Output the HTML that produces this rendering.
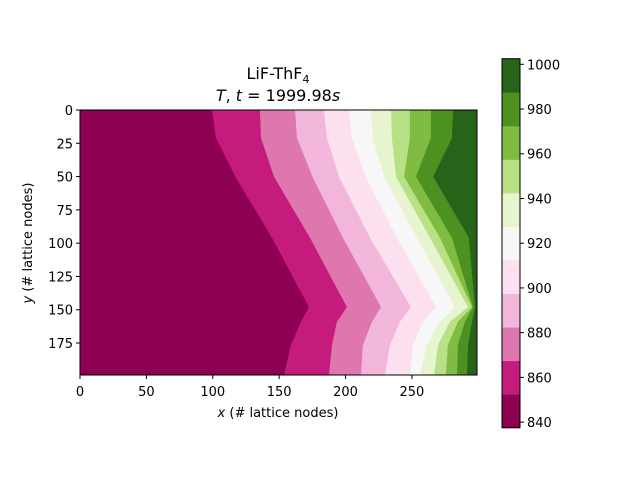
<!DOCTYPE html>
<html><head><meta charset="utf-8"><style>
html,body{margin:0;padding:0;background:#fff;}
svg text{font-family:"DejaVu Sans","Liberation Sans",sans-serif;fill:#000;}
</style></head><body>
<svg id="chart" width="640" height="480" viewBox="0 0 640 480" xmlns="http://www.w3.org/2000/svg">
<g id="plot"></g>
<g id="axes"></g>
<g id="cbar"></g>
<text x="278" y="79" font-size="16" text-anchor="middle">LiF-ThF<tspan font-size="11" dy="4">4</tspan></text>
<text x="278" y="101" font-size="16" text-anchor="middle"><tspan font-style="italic">T</tspan>, <tspan font-style="italic">t</tspan> = 1999.98<tspan font-style="italic">s</tspan></text>
<text x="278" y="417" font-size="13" text-anchor="middle"><tspan font-style="italic">x</tspan> (# lattice nodes)</text>
<text transform="translate(32,243) rotate(-90)" font-size="13" text-anchor="middle"><tspan font-style="italic">y</tspan> (# lattice nodes)</text>
</svg>
<script>
// data
const levels=[837.5,852.5,867.5,882.5,897.5,912.5,927.5,942.5,957.5,972.5,987.5,1002.5];
const colors=["#8e0152","#c51b7d","#de77ae","#f1b6da","#fde0ef","#f7f7f7","#e6f5d0","#b8e186","#7fbc41","#4d9221","#276419"];
const boundaryY=[0,21,50,96,148,159,176.5,199];
const b1=[99.4,102.4,117,144.6,172.4,166.4,158.9,153.6];
const b2=[135.5,136.3,146,173.2,201,193.5,189.8,187.5];
const b3=[161.9,163.4,175,198,226.7,219.9,213.1,211.6];
const b4=[183.7,186,195,218.4,249.2,241,233.4,229.7];
const b5=[202.6,204.8,215,238.7,268.1,258.3,250.8,248.5];
const b6=[219.1,220.6,229,253.8,282.4,271.1,261.3,256];
const b7=[234.2,234.9,238,263.6,292.2,278.6,269.6,266.6];
const b8=[248.5,248.5,244,271.1,295.2,284.6,277.1,275.6];
const b9=[264.3,264.3,253,280.1,295.9,289.9,284.6,283.9];
const b10=[280.9,280.1,266,292.9,297.4,295.2,292.2,291.4];
const boundaries=[b1,b2,b3,b4,b5,b6,b7,b8,b9,b10];
const xTicks=[0,50,100,150,200,250];
const yTicks=[0,25,50,75,100,125,150,175];
const cbTicks=[840,860,880,900,920,940,960,980,1000];

const NS="http://www.w3.org/2000/svg";
const L=80,R=477,T=110,B=375,XMAX=299,YMAX=199;
const sx=v=>L+v*(R-L)/XMAX;
const sy=v=>T+v*(B-T)/YMAX;
const CT=58.7,CB=427.7,CL=502,CR=520;
const cy=v=>CB-(v-levels[0])*(CB-CT)/(levels[levels.length-1]-levels[0]);
function mk(tag,attrs,parent){const e=document.createElementNS(NS,tag);for(const k in attrs)e.setAttribute(k,attrs[k]);parent.appendChild(e);return e;}
const plot=document.getElementById('plot'),axes=document.getElementById('axes'),cbar=document.getElementById('cbar');

let bg=mk('rect',{x:L,y:T,width:R-L,height:B-T,fill:colors[0]},plot);


boundaries.forEach((bd,k)=>{
  let pts=bd.map((x,i)=>sx(x).toFixed(1)+','+sy(boundaryY[i]).toFixed(1));
  pts.push(sx(XMAX)+','+sy(YMAX));pts.push(sx(XMAX)+','+sy(0));
  const p=mk('polygon',{points:pts.join(' '),fill:colors[k+1]},plot);
  
  
});
const fr=mk('rect',{x:L,y:T,width:R-L,height:B-T,fill:'none',stroke:'#000','stroke-width':1},axes);


xTicks.forEach(v=>{
  const x=sx(v);
  const t=mk('line',{x1:x,x2:x,y1:B,y2:B+4,stroke:'#000'},axes);
  
  
  const l=mk('text',{x:x,y:B+21,'font-size':13,'text-anchor':'middle'},axes);l.textContent=v;
  
  
});
yTicks.forEach(v=>{
  const y=sy(v);
  const t=mk('line',{x1:L-4,x2:L,y1:y,y2:y,stroke:'#000'},axes);
  
  
  const l=mk('text',{x:L-7,y:y+5,'font-size':13,'text-anchor':'end'},axes);l.textContent=v;
  
  
});
colors.forEach((c,k)=>{
  const r=mk('rect',{x:CL,y:cy(levels[k+1]),width:CR-CL,height:cy(levels[k])-cy(levels[k+1])+0.5,fill:c},cbar);
  
  
});
const cf=mk('rect',{x:CL,y:CT,width:CR-CL,height:CB-CT,fill:'none',stroke:'#000'},cbar);


cbTicks.forEach(v=>{
  const y=cy(v);
  const t=mk('line',{x1:CR,x2:CR+4,y1:y,y2:y,stroke:'#000'},cbar);
  
  
  const l=mk('text',{x:CR+7,y:y+5,'font-size':13},cbar);l.textContent=v;
  
  
});
</script>
</body></html>
